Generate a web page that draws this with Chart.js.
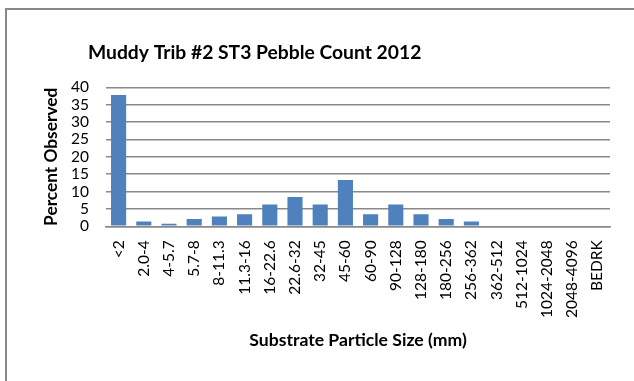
<!DOCTYPE html>
<html>
<head>
<meta charset="utf-8">
<script src="https://cdn.jsdelivr.net/npm/chart.js@4/dist/chart.umd.min.js"></script>
<style>
  html, body { margin: 0; padding: 0; background: #ffffff; }
  #wrap { position: relative; width: 634px; height: 381px; overflow: hidden; }
  canvas { display: block; }
</style>
</head>
<body>
<div id="wrap"><canvas id="c" width="634" height="381"></canvas></div>
<script>
// Particle size classes (mm) for the pebble count
const sizeClasses = [
  '<2', '2.0-4', '4-5.7', '5.7-8', '8-11.3', '11.3-16', '16-22.6', '22.6-32',
  '32-45', '45-60', '60-90', '90-128', '128-180', '180-256', '256-362',
  '362-512', '512-1024', '1024-2048', '2048-4096', 'BEDRK'
];

// Percent of pebbles observed in each size class
const percentObserved = [
  37.8, 1.4, 0.7, 2.1, 2.8, 3.5, 6.3, 8.4,
  6.3, 13.3, 3.5, 6.3, 3.5, 2.1, 1.4,
  0, 0, 0, 0, 0
];

// Value axis ticks
const yTicks = [0, 5, 10, 15, 20, 25, 30, 35, 40];

const chartTitle = 'Muddy Trib #2 ST3 Pebble Count 2012';
const xTitle = 'Substrate Particle Size (mm)';
const yTitle = 'Percent Observed';

const textFont = 'Lato';
const gridGray = '#898989';

// Outer frame and the left-set chart title
const framePlugin = {
  id: 'frame',
  beforeDraw(chart) {
    const ctx = chart.ctx;
    ctx.save();
    ctx.fillStyle = '#ffffff';
    ctx.fillRect(0, 0, chart.width, chart.height);
    ctx.strokeStyle = gridGray;
    ctx.lineWidth = 2;
    ctx.strokeRect(6, 9, chart.width + 20, chart.height + 20);
    ctx.restore();
  },
  afterDraw(chart) {
    const ctx = chart.ctx;
    ctx.save();
    ctx.fillStyle = '#000000';
    ctx.font = 'bold 19.3px ' + textFont;
    ctx.textBaseline = 'middle';
    ctx.textAlign = 'left';
    ctx.fillText(chartTitle, 88, 53);
    ctx.restore();
  }
};

new Chart(document.getElementById('c'), {
  type: 'bar',
  data: {
    labels: sizeClasses,
    datasets: [{
      data: percentObserved,
      backgroundColor: '#4f81bd',
      borderWidth: 0,
      categoryPercentage: 1.0,
      barPercentage: 0.6
    }]
  },
  options: {
    responsive: false,
    animation: false,
    devicePixelRatio: 1,
    layout: { padding: { left: 5, right: 24, top: 87.3, bottom: 0 } },
    plugins: {
      legend: { display: false },
      title: { display: false },
      tooltip: { enabled: false }
    },
    scales: {
      x: {
        grid: { display: false, drawTicks: false },
        border: { display: true, color: gridGray, width: 1.5 },
        ticks: {
          color: '#000000',
          font: { family: textFont, size: 15.5 },
          minRotation: 90,
          maxRotation: 90,
          autoSkip: false,
          padding: 14
        },
        title: {
          display: true,
          text: xTitle,
          color: '#000000',
          font: { family: textFont, size: 17.6, weight: 'bold' },
          padding: { top: 0, bottom: 30 }
        },
        afterFit(scale) { scale.height = 154.7; }
      },
      y: {
        min: 0,
        max: 40,
        afterBuildTicks(scale) { scale.ticks = yTicks.map(v => ({ value: v })); },
        grid: { color: gridGray, lineWidth: 1.5, drawTicks: false },
        border: { display: false },
        ticks: {
          color: '#000000',
          font: { family: textFont, size: 15.5 },
          autoSkip: false,
          padding: 17
        },
        title: {
          display: true,
          text: yTitle,
          color: '#000000',
          font: { family: textFont, size: 17.3, weight: 'bold' },
          padding: { top: 36, bottom: 0 }
        },
        afterFit(scale) { scale.width = 101; }
      }
    }
  },
  plugins: [framePlugin]
});
</script>
</body>
</html>
